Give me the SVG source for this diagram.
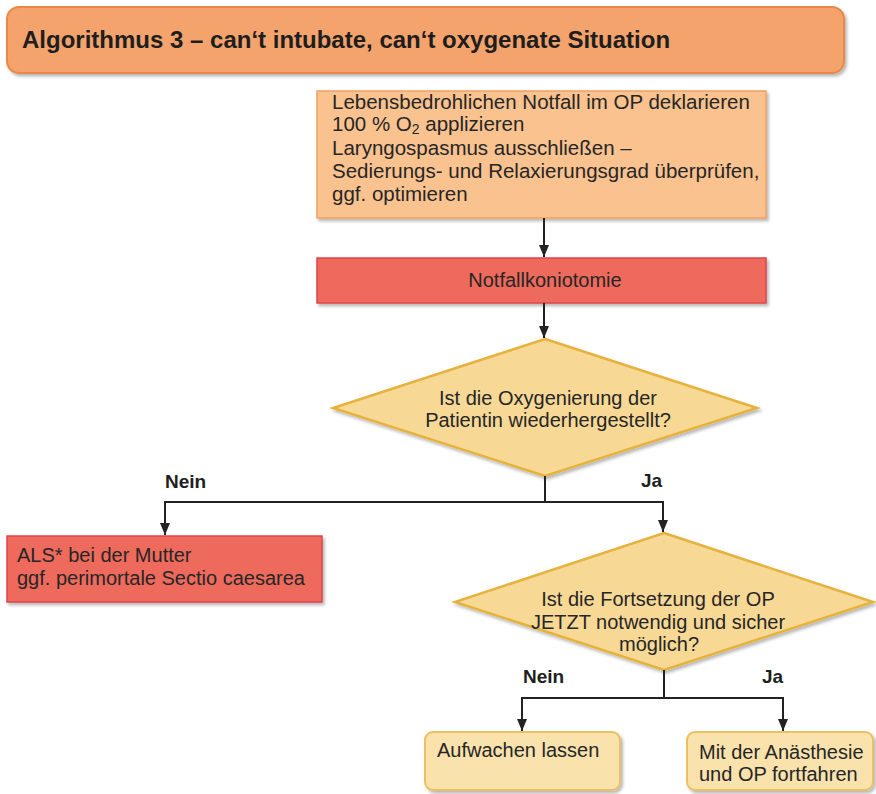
<svg xmlns="http://www.w3.org/2000/svg" width="876" height="794" viewBox="0 0 876 794">
<style>
.t{font-family:"Liberation Sans",Arial,sans-serif;font-size:20px;fill:#262626}
.b{font-family:"Liberation Sans",Arial,sans-serif;font-weight:bold;font-size:19px;fill:#1e1e1e}
.title{font-family:"Liberation Sans",Arial,sans-serif;font-weight:bold;font-size:24px;fill:#1e1e1e}
.c{text-anchor:middle}
.line{fill:none;stroke:#222;stroke-width:2}
.orange{fill:#F4A36C;stroke:#E8884A;stroke-width:2}
.lorange{fill:#FAC28F;stroke:#EFA061;stroke-width:1.5}
.red{fill:#EE6B5C;stroke:#DF4548;stroke-width:1.5}
.dia{fill:#F8D895;stroke:#E6B23C;stroke-width:2.5}
.light{fill:#FAE2AD;stroke:#EBBF62;stroke-width:2}
</style>
<defs>
<filter id="sh" x="-5%" y="-5%" width="115%" height="130%">
<feDropShadow dx="2" dy="2.5" stdDeviation="1.5" flood-color="#000" flood-opacity="0.28"/>
</filter>
<marker id="arr" markerUnits="userSpaceOnUse" markerWidth="12" markerHeight="12" refX="12" refY="5" orient="auto">
<path d="M0,0 L12,5 L0,10 z" fill="#222"/>
</marker>
</defs>

<g id="title">
<rect class="orange" x="7" y="7" width="837" height="66" rx="12" filter="url(#sh)"/>
<text class="title" x="22" y="48">Algorithmus 3 – can‘t intubate, can‘t oxygenate Situation</text>
</g>

<g id="n1">
<rect class="lorange" x="317" y="91" width="449" height="127" filter="url(#sh)"/>
<text class="t" x="332" y="109" style="font-size:20.5px">Lebensbedrohlichen Notfall im OP deklarieren</text>
<text class="t" x="332" y="131" style="font-size:20.5px">100 % O<tspan font-size="14" dy="3">2</tspan><tspan dy="-3"> applizieren</tspan></text>
<text class="t" x="332" y="155" style="font-size:20.5px">Laryngospasmus ausschließen –</text>
<text class="t" x="332" y="178" style="font-size:20.5px">Sedierungs- und Relaxierungsgrad überprüfen,</text>
<text class="t" x="332" y="201" style="font-size:20.5px">ggf. optimieren</text>
</g>

<g id="n2">
<rect class="red" x="317" y="258" width="449" height="45" filter="url(#sh)"/>
<text class="t c" x="545" y="287">Notfallkoniotomie</text>
</g>

<g id="d1">
<polygon class="dia" points="545,339 757,408 545,476 333,408" filter="url(#sh)"/>
<text class="t c" x="548" y="405">Ist die Oxygenierung der</text>
<text class="t c" x="548" y="427">Patientin wiederhergestellt?</text>
</g>

<g id="n3">
<rect class="red" x="7" y="536" width="315" height="66" filter="url(#sh)"/>
<text class="t" x="17" y="562">ALS* bei der Mutter</text>
<text class="t" x="17" y="585">ggf. perimortale Sectio caesarea</text>
</g>

<g id="d2">
<polygon class="dia" points="664,533 873,602 664,670 455,602" filter="url(#sh)"/>
<text class="t c" x="658" y="606">Ist die Fortsetzung der OP</text>
<text class="t c" x="658" y="629">JETZT notwendig und sicher</text>
<text class="t c" x="659" y="651">möglich?</text>
</g>

<g id="n4">
<rect class="light" x="425" y="732" width="195" height="58" rx="8" filter="url(#sh)"/>
<text class="t" x="437" y="757">Aufwachen lassen</text>
</g>

<g id="n5">
<rect class="light" x="687" y="732" width="186" height="58" rx="8" filter="url(#sh)"/>
<text class="t" x="699" y="759">Mit der Anästhesie</text>
<text class="t" x="699" y="781">und OP fortfahren</text>
</g>

<g id="connectors">
<line class="line" x1="544" y1="218" x2="544" y2="257" marker-end="url(#arr)"/>
<line class="line" x1="544" y1="303" x2="544" y2="338" marker-end="url(#arr)"/>
<polyline class="line" points="545,476 545,502"/>
<polyline class="line" points="165,535 165,502 663,502 663,532" marker-end="url(#arr)"/>
<line class="line" x1="165" y1="502" x2="165" y2="535" marker-end="url(#arr)"/>
<polyline class="line" points="664,670 664,698"/>
<polyline class="line" points="522,731 522,698 783,698 783,731" marker-end="url(#arr)"/>
<line class="line" x1="522" y1="698" x2="522" y2="731" marker-end="url(#arr)"/>
<text class="b" x="165" y="488">Nein</text>
<text class="b" x="641" y="487">Ja</text>
<text class="b" x="523" y="683">Nein</text>
<text class="b" x="762" y="683">Ja</text>
</g>
</svg>
